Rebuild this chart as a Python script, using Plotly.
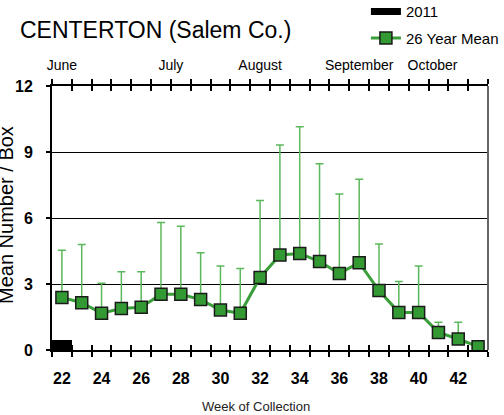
import plotly.graph_objects as go

# week numbers and the 26 year mean catch per box
weeks = [22, 23, 24, 25, 26, 27, 28, 29, 30, 31, 32,
         33, 34, 35, 36, 37, 38, 39, 40, 41, 42, 43]
mean_26yr = [2.39, 2.15, 1.67, 1.89, 1.94, 2.53, 2.53, 2.29, 1.82, 1.67, 3.30,
             4.32, 4.39, 4.02, 3.48, 3.97, 2.70, 1.71, 1.71, 0.80, 0.50, 0.15]
# top of the (upward only) error bar
upper_26yr = [4.53, 4.79, 3.03, 3.56, 3.56, 5.79, 5.62, 4.42, 3.82, 3.70, 6.80,
              9.32, 10.15, 8.47, 7.09, 7.76, 4.82, 3.11, 3.82, 1.26, 1.26, 0.15]

# 2011 season so far
weeks_2011 = [22]
catch_2011 = [0.45]

week_labels = [22, 24, 26, 28, 30, 32, 34, 36, 38, 40, 42]
months = ["June", "July", "August", "September", "October"]
month_weeks = [22, 27.5, 32, 37, 40.7]

FONT = "Liberation Sans, Arial, sans-serif"
GREEN = "#339933"

err_up = [u - m for u, m in zip(upper_26yr, mean_26yr)]
bounds = [w - 0.5 for w in weeks] + [weeks[-1] + 0.5]
xrange_ = [bounds[0], bounds[-1]]

fig = go.Figure()

# 2011 bars sit on x3 (same scale as x, carries the inner tick marks)
fig.add_trace(go.Bar(x=weeks_2011, y=catch_2011, width=1, xaxis="x3",
                     marker=dict(color="black", line=dict(width=0)),
                     name="2011", showlegend=False))

# legend swatch for 2011 (wide black bar as in the original), on the month axis
fig.add_trace(go.Scatter(x=[None], y=[None], mode="lines", xaxis="x2",
                         line=dict(color="black", width=7),
                         name="2011", legendgroup="a"))

fig.add_trace(go.Scatter(x=weeks, y=mean_26yr,
                         mode="lines+markers",
                         name="26 Year Mean", legendgroup="b",
                         line=dict(color="#3a9f3a", width=3),
                         marker=dict(symbol="square", size=12, color=GREEN,
                                     line=dict(color="#1a1a1a", width=1.5)),
                         error_y=dict(type="data", symmetric=False,
                                      array=err_up, arrayminus=[0] * len(err_up),
                                      color="#5cb85c", thickness=1.5, width=4)))

fig.update_layout(
    width=504, height=415,
    margin=dict(l=52, r=16, t=86, b=65, autoexpand=False),
    paper_bgcolor="white", plot_bgcolor="white",
    font=dict(family=FONT, color="black"),
    title=dict(text="CENTERTON (Salem Co.)", x=20 / 504, xanchor="left",
               y=0.928, yanchor="middle",
               font=dict(family=FONT, size=23, color="black")),
    showlegend=True,
    legend=dict(x=0.72, y=1.344, xanchor="left", yanchor="top",
                font=dict(family=FONT, size=15, color="black"),
                tracegroupgap=4, itemwidth=30, bgcolor="rgba(0,0,0,0)"),
    bargap=0,
    xaxis=dict(range=xrange_, tickvals=week_labels, ticktext=[str(w) for w in week_labels],
               ticks="", showgrid=False, zeroline=False,
               showline=True, linecolor="black", linewidth=2, mirror="ticks",
               tickfont=dict(family=FONT, size=16, color="black", weight="bold"),
               ticklabelstandoff=13,
               minor=dict(tickvals=bounds, ticks="outside", ticklen=5,
                          tickwidth=1.5, tickcolor="black", showgrid=False)),
    xaxis3=dict(overlaying="x", matches="x", range=xrange_, tickvals=bounds,
                ticks="inside", ticklen=5, tickwidth=1.5, tickcolor="black",
                showticklabels=False, showgrid=False, zeroline=False,
                showline=False, mirror="ticks", anchor="y"),
    xaxis2=dict(overlaying="x", matches="x", side="top", range=xrange_,
                tickvals=month_weeks, ticktext=months, ticks="",
                showgrid=False, zeroline=False,
                showline=False, anchor="y", ticklabelstandoff=12,
                tickfont=dict(family=FONT, size=14, color="black")),
    yaxis=dict(range=[0, 12], tickvals=[0, 3, 6, 9, 12], ticks="outside", ticklen=4,
               tickwidth=1.5, tickcolor="black",
               showgrid=True, gridcolor="black", gridwidth=1.2, zeroline=False,
               showline=True, linecolor="black", linewidth=2,
               tickfont=dict(family=FONT, size=16, color="black", weight="bold"),
               ticklabelstandoff=10),
    annotations=[
        dict(text="Mean Number / Box", textangle=-90, xref="paper", yref="paper",
             x=(6 - 52) / 436, y=(350 - 215) / 264, showarrow=False,
             xanchor="center", yanchor="middle",
             font=dict(family=FONT, size=20, color="black")),
        dict(text="Week of Collection", xref="paper", yref="paper",
             x=(256 - 52) / 436, y=(350 - 406) / 264, showarrow=False,
             xanchor="center", yanchor="middle",
             font=dict(family=FONT, size=13, color="#222222")),
    ],
    shapes=[dict(type="line", xref="paper", yref="paper", x0=1, x1=1, y0=0, y1=1,
                 line=dict(color="#666666", width=2))],
)

# drop the default page margin so the figure sits at the window's corner
fig.write_html("out.html", config={"displayModeBar": False},
               post_script="document.body.style.margin='0';")
